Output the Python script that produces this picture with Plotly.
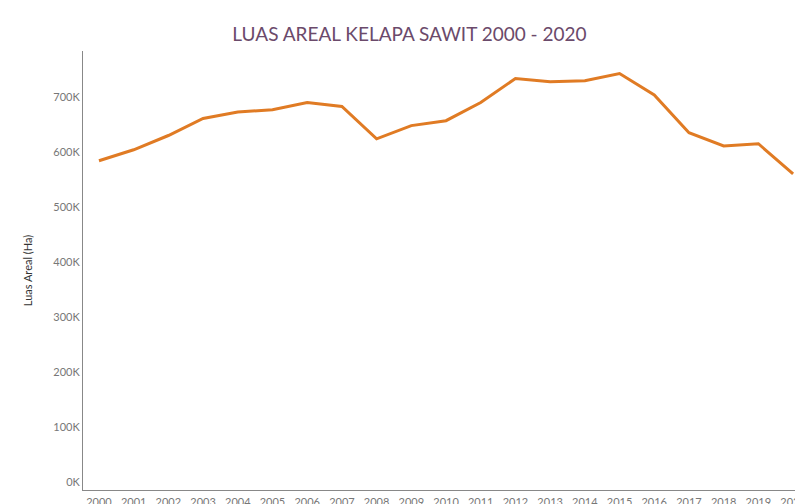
import plotly.graph_objects as go

years = [str(y) for y in range(2000, 2021)]
luas = [585000, 605000, 631000, 662000, 674000, 678000, 691000, 684000, 625000, 649000,
        658000, 691000, 735000, 729000, 731000, 744000, 705000, 636000, 612000, 616000, 561000]
tickvals = [0, 100000, 200000, 300000, 400000, 500000, 600000, 700000]
ticktext = ["0K", "100K", "200K", "300K", "400K", "500K", "600K", "700K"]

fig = go.Figure(go.Scatter(x=list(range(len(years))), y=luas, mode="lines",
                           line=dict(color="#E07B24", width=3)))
fig.update_layout(
    width=803, height=504, plot_bgcolor="white", paper_bgcolor="white",
    margin=dict(l=75, r=3, t=43, b=22), showlegend=False,
    font=dict(family="Lato, Open Sans, sans-serif", color="#777", size=11),
    title=dict(text="LUAS AREAL KELAPA SAWIT 2000 - 2020", x=0.5, xanchor="center", y=0.96,
               font=dict(size=19, color="#6b4a6b")),
)
fig.update_xaxes(tickvals=list(range(len(years))), ticktext=years, range=[-0.46, 20.43],
                 showgrid=False, showline=True, linecolor="#888", ticks="", zeroline=False,
                 automargin=False, ticklabelstandoff=2)
fig.update_yaxes(tickvals=tickvals, ticktext=ticktext, range=[-15000, 785000],
                 showgrid=False, showline=True, linecolor="#888", zeroline=False,
                 automargin=False, title=dict(text="Luas Areal (Ha)", standoff=18,
                                              font=dict(size=11, color="#333")))
fig.write_html("out.html")
